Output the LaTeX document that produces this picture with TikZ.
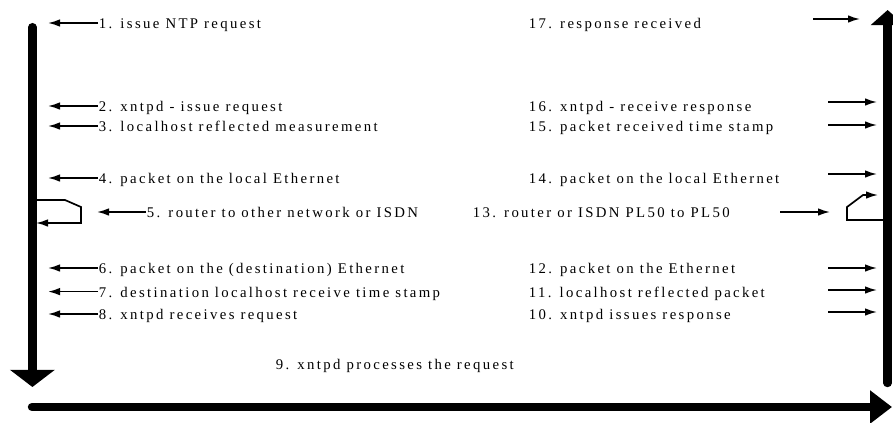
\documentclass[tikz,border=0pt]{standalone}
\usepackage{fontspec}
\setmainfont[LetterSpace=16]{Liberation Serif}
\usepackage{tikz}
\usetikzlibrary{arrows.meta,positioning}

\begin{document}
\begin{tikzpicture}[>={Latex[length=3mm,width=1.9mm]},
    font=\fontsize{10.5}{12}\selectfont,
    msg/.style={anchor=west, inner xsep=0.5pt, inner ysep=0pt, text height=8pt, text depth=0pt},
    pointer/.style={->, line width=1.2pt},
    timeline/.style={line width=6pt, line cap=round}]

\useasboundingbox (0,0) rectangle (22.325,10.55);

% ==========================================
% Time lines (client down, wire across, server up)
% ==========================================
\coordinate (clienttop) at (0.81,9.87);
\coordinate (clientend) at (0.81,0.875);
\draw[timeline, -{Triangle[length=4.3mm,width=11mm]}] (clienttop) -- (clientend);

\coordinate (wirestart) at (0.8,0.375);
\coordinate (wireend) at (22.3,0.375);
\draw[timeline, -{Triangle[length=5.5mm,width=8mm]}] (wirestart) -- (wireend);

\coordinate (serverstart) at (22.19,0.975);
\coordinate (servertop) at (22.19,10.3);
\draw[timeline, -{Triangle[length=3.8mm,width=8.3mm]}] (serverstart) -- (servertop);

% ==========================================
% LEFT SIDE: request path
% ==========================================
\node[msg] (t1) at (2.45,9.975) {1. issue NTP request};
\node[msg] (t2) at (2.45,7.9) {2. xntpd - issue request};
\node[msg] (t3) at (2.45,7.4) {3. localhost reflected measurement};
\node[msg] (t4) at (2.45,6.1) {4. packet on the local Ethernet};
\node[msg] (t5) at (3.65,5.25) {5. router to other network or ISDN};
\node[msg] (t6) at (2.45,3.85) {6. packet on the (destination) Ethernet};
\node[msg] (t7) at (2.45,3.26) {7. destination localhost receive time stamp};
\node[msg] (t8) at (2.45,2.7) {8. xntpd receives request};

\coordinate (a1) at (1.2,9.975);
\coordinate (a2) at (1.2,7.9);
\coordinate (a3) at (1.2,7.4);
\coordinate (a4) at (1.2,6.1);
\coordinate (a5) at (2.425,5.25);
\coordinate (a6) at (1.2,3.85);
\coordinate (a7) at (1.2,3.26);
\coordinate (a8) at (1.2,2.7);

\draw[pointer] (t1.west) -- (a1);
\draw[pointer] (t2.west) -- (a2);
\draw[pointer] (t3.west) -- (a3);
\draw[pointer] (t4.west) -- (a4);
\draw[pointer] (t5.west) -- (a5);
\draw[pointer] (t6.west) -- (a6);
\draw[pointer] (t7.west) -- (a7);
\draw[pointer] (t8.west) -- (a8);

% router hop on the client side
\draw[pointer] (0.81,5.55) -- (1.625,5.55) -- (2.025,5.375) -- (2.025,4.975) -- (0.9,4.975);

% server turn-around
\node[msg] (t9) at (6.875,1.45) {9. xntpd processes the request};

% ==========================================
% RIGHT SIDE: response path
% ==========================================
\node[msg] (t10) at (13.2,2.7) {10. xntpd issues response};
\node[msg] (t11) at (13.2,3.26) {11. localhost reflected packet};
\node[msg] (t12) at (13.2,3.85) {12. packet on the Ethernet};
\node[msg] (t13) at (11.8,5.25) {13. router or ISDN PL50 to PL50};
\node[msg] (t14) at (13.2,6.1) {14. packet on the local Ethernet};
\node[msg] (t15) at (13.2,7.4) {15. packet received time stamp};
\node[msg] (t16) at (13.2,7.9) {16. xntpd - receive response};
\node[msg] (t17) at (13.2,9.975) {17. response received};

\coordinate (b10) at (20.7,2.75);   \coordinate (c10) at (21.925,2.75);
\coordinate (b11) at (20.7,3.3);    \coordinate (c11) at (21.925,3.3);
\coordinate (b12) at (20.7,3.85);   \coordinate (c12) at (21.925,3.85);
\coordinate (b13) at (19.5,5.25);   \coordinate (c13) at (20.75,5.25);
\coordinate (b14) at (20.7,6.2);    \coordinate (c14) at (21.925,6.2);
\coordinate (b15) at (20.7,7.425);  \coordinate (c15) at (21.925,7.425);
\coordinate (b16) at (20.7,8.0);    \coordinate (c16) at (21.925,8.0);
\coordinate (b17) at (20.325,10.075); \coordinate (c17) at (21.5,10.075);

\draw[pointer] (b10) -- (c10);
\draw[pointer] (b11) -- (c11);
\draw[pointer] (b12) -- (c12);
\draw[pointer] (b13) -- (c13);
\draw[pointer] (b14) -- (c14);
\draw[pointer] (b15) -- (c15);
\draw[pointer] (b16) -- (c16);
\draw[pointer] (b17) -- (c17);

% router hop on the server side
\draw[pointer] (22.1,5.05) -- (21.175,5.05) -- (21.175,5.375) -- (21.575,5.675) -- (21.95,5.675);

\end{tikzpicture}
\end{document}
